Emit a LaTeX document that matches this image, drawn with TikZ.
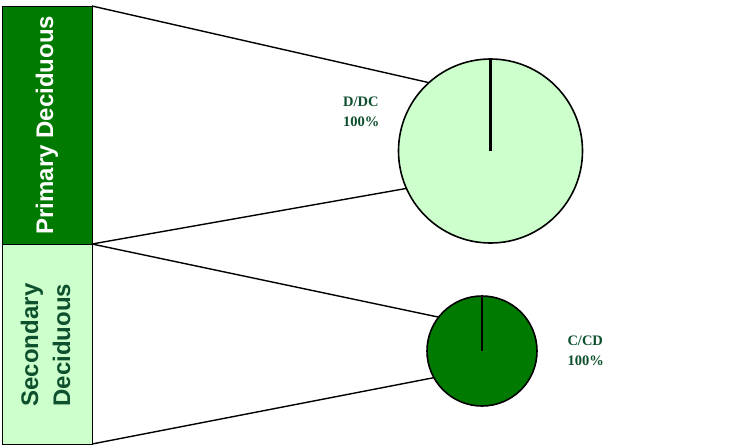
\documentclass[tikz,border=0pt]{standalone}
\usepackage{fontspec}
\setmainfont{Liberation Serif}
\setsansfont{Liberation Sans}
\usetikzlibrary{shapes}
\usepackage{xcolor}
\definecolor{darkgrn}{RGB}{0,122,0}
\definecolor{lightgrn}{RGB}{204,255,204}
\definecolor{textgrn}{RGB}{14,80,46}
\tikzset{
  barbox/.style={draw, line width=1pt, minimum width=90pt, inner sep=0pt, outer sep=0pt},
  pie/.style={circle, draw, line width=1.6pt, inner sep=0pt, outer sep=0pt},
  bartext/.style={rotate=90, inner sep=0pt, font=\sffamily\bfseries\fontsize{24}{32}\selectfont},
  pct/.style={text=textgrn, align=left, inner sep=0pt, font=\bfseries\fontsize{14.5}{20}\selectfont},
  wedge/.style={line width=1.4pt}
}

\begin{document}
\begin{tikzpicture}[x=1pt,y=-1pt]
\useasboundingbox (0,0) rectangle (752,445);
% left bar
\node [barbox, fill=darkgrn, minimum height=238pt] (prim) at (47,125) {};
\node [barbox, fill=lightgrn, minimum height=200pt] (sec) at (47,344) {};
\node [bartext, text=white] (primtxt) at (47,125) {Primary Deciduous};
\node [bartext, text=textgrn, align=left] (sectxt) at (45.5,345) {Secondary\\Deciduous};
% pies
\node [pie, fill=lightgrn, minimum size=184pt] (bigpie) at (490.5,151) {};
\node [pie, fill=darkgrn, minimum size=110pt] (smallpie) at (482,351) {};
\draw [line width=2.4pt] (bigpie.center) -- (bigpie.north);
\draw [line width=2.4pt] (smallpie.center) -- (smallpie.north);
% connectors
\draw [wedge] (prim.north east) -- (bigpie.132.6);
\draw [wedge] (prim.south east) -- (bigpie.204.5);
\draw [wedge] (sec.north east) -- (smallpie.142);
\draw [wedge] (sec.south east) -- (smallpie.209);
% labels
\node [pct, anchor=north west] (ddc) at (343,96.7) {D/DC\\100\%};
\node [pct, anchor=north west] (ccd) at (567.3,335.7) {C/CD\\100\%};
\end{tikzpicture}
\end{document}
